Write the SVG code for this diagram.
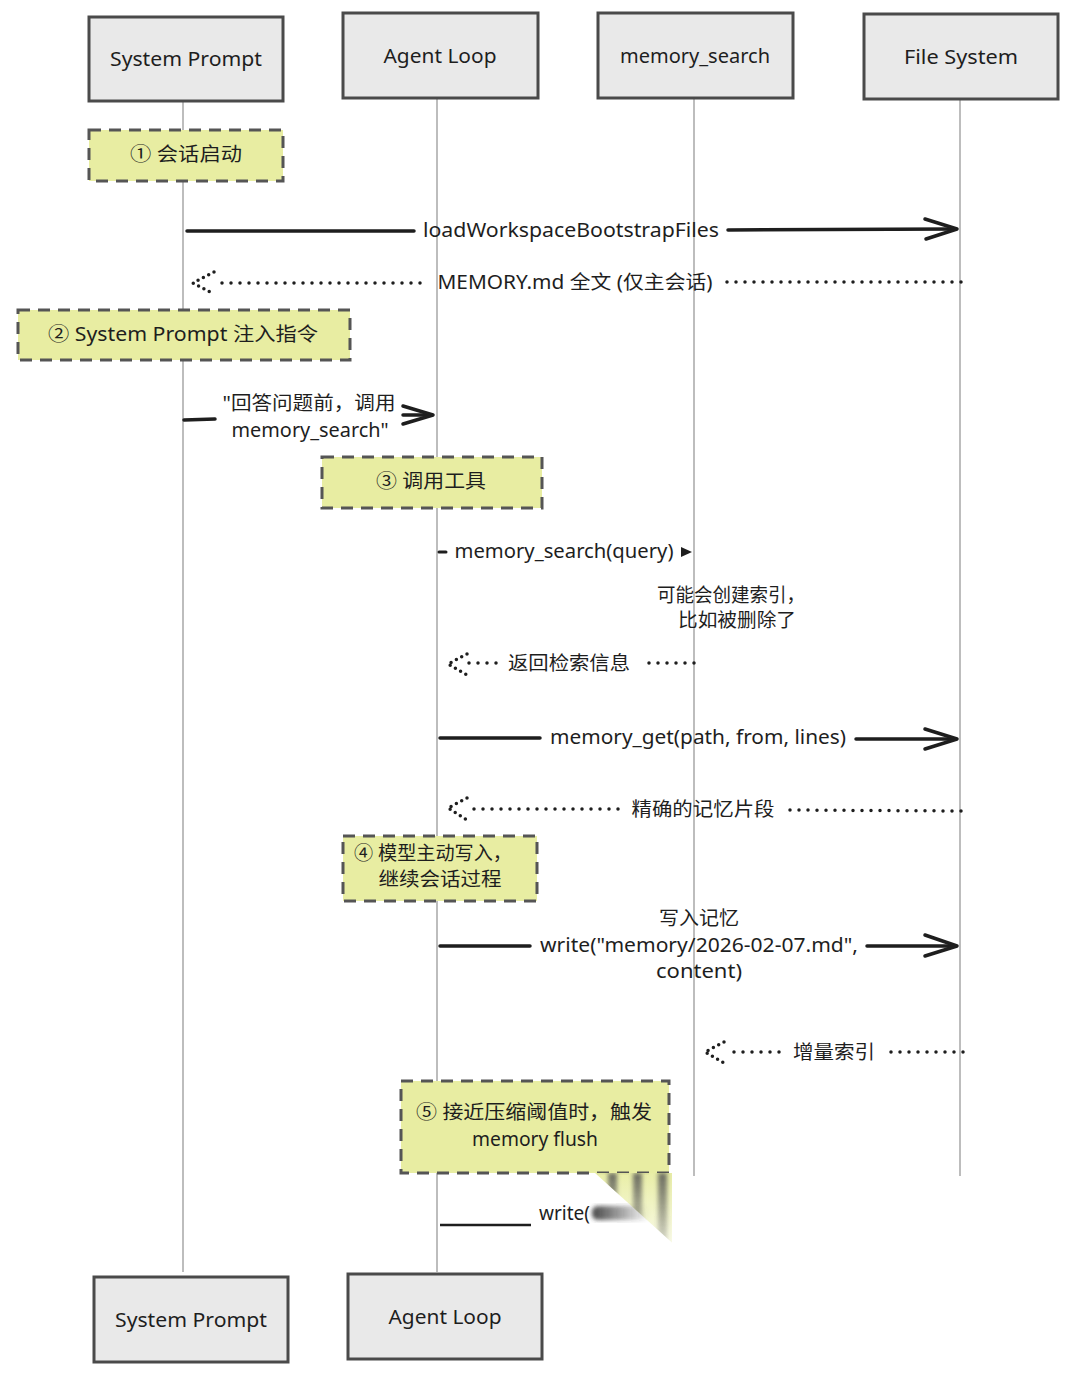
<svg xmlns="http://www.w3.org/2000/svg" width="1080" height="1380" viewBox="0 0 1080 1380">
<style>
.box{fill:#e9e9e9;stroke:#4a4a4a;stroke-width:3}
.note{fill:#e8eda2;stroke:#555;stroke-width:3;stroke-dasharray:12 8}
.life{stroke:#9a9a9a;stroke-width:1.3;fill:none}
.t{font-family:"Noto Sans","Noto Sans CJK SC",sans-serif;fill:#1e1e1e;dominant-baseline:central;text-anchor:middle}
.h{font-size:20px}
.l{font-size:19px}
.solid{stroke:#1e1e1e;stroke-width:3.5;fill:none;stroke-linecap:round;stroke-linejoin:round}
.dot{stroke:#1e1e1e;stroke-width:3.5;fill:none;stroke-linecap:round;stroke-dasharray:0 9}
.dothead{stroke:#1e1e1e;stroke-width:3.5;fill:none;stroke-linecap:round;stroke-dasharray:0 6}
</style>
<defs>
<linearGradient id="yfade" x1="0" y1="0" x2="0" y2="1">
<stop offset="0" stop-color="#e8eda2" stop-opacity="0.95"/>
<stop offset="1" stop-color="#e8eda2" stop-opacity="0"/>
</linearGradient>
<linearGradient id="gfade" x1="0" y1="0" x2="0" y2="1">
<stop offset="0" stop-color="#555" stop-opacity="0.85"/>
<stop offset="1" stop-color="#555" stop-opacity="0"/>
</linearGradient>
<linearGradient id="hfade" x1="0" y1="0" x2="1" y2="0">
<stop offset="0" stop-color="#333" stop-opacity="0.9"/>
<stop offset="1" stop-color="#333" stop-opacity="0"/>
</linearGradient>
<filter id="soft" x="-20%" y="-20%" width="140%" height="140%"><feGaussianBlur stdDeviation="2"/></filter>
<clipPath id="wedge"><polygon points="595,1173 700,1173 700,1268"/></clipPath>
</defs>
<rect width="1080" height="1380" fill="#ffffff"/>

<g id="lifelines">
<line class="life" x1="183" y1="101" x2="183" y2="1272"/>
<line class="life" x1="437" y1="98" x2="437" y2="1272"/>
<line class="life" x1="694" y1="98" x2="694" y2="1176"/>
<line class="life" x1="960" y1="100" x2="960" y2="1176"/>
</g>

<g id="head-system-prompt"><rect class="box" x="89" y="17" width="194" height="84"/><text class="t h" x="186" y="58" textLength="152" lengthAdjust="spacingAndGlyphs">System Prompt</text></g>
<g id="head-agent-loop"><rect class="box" x="343" y="13" width="195" height="85"/><text class="t h" x="440" y="55" textLength="113" lengthAdjust="spacingAndGlyphs">Agent Loop</text></g>
<g id="head-memory-search"><rect class="box" x="598" y="13" width="195" height="85"/><text class="t h" x="695" y="55" textLength="150" lengthAdjust="spacingAndGlyphs">memory_search</text></g>
<g id="head-file-system"><rect class="box" x="864" y="14" width="194" height="85"/><text class="t h" x="961" y="56" textLength="114" lengthAdjust="spacingAndGlyphs">File System</text></g>

<g id="foot-system-prompt"><rect class="box" x="94" y="1277" width="194" height="85"/><text class="t h" x="191" y="1319" textLength="152" lengthAdjust="spacingAndGlyphs">System Prompt</text></g>
<g id="foot-agent-loop"><rect class="box" x="348" y="1274" width="194" height="85"/><text class="t h" x="445" y="1316" textLength="113" lengthAdjust="spacingAndGlyphs">Agent Loop</text></g>

<g id="note1"><rect class="note" x="89" y="130" width="194" height="51"/><text class="t l" x="186" y="154" textLength="112" lengthAdjust="spacingAndGlyphs">① 会话启动</text></g>
<g id="note2"><rect class="note" x="18" y="310" width="332" height="50"/><text class="t l" x="183" y="334" textLength="270" lengthAdjust="spacingAndGlyphs">② System Prompt 注入指令</text></g>
<g id="note3"><rect class="note" x="322" y="457" width="220" height="51"/><text class="t l" x="431" y="481" textLength="110" lengthAdjust="spacingAndGlyphs">③ 调用工具</text></g>
<g id="note4"><rect class="note" x="343" y="836" width="194" height="65"/><text class="t l" x="433" y="853" textLength="158" lengthAdjust="spacingAndGlyphs">④ 模型主动写入，</text><text class="t l" x="440" y="879" textLength="123" lengthAdjust="spacingAndGlyphs">继续会话过程</text></g>
<g id="note5"><rect class="note" x="401" y="1081" width="268" height="92"/><text class="t l" x="534" y="1112" textLength="236" lengthAdjust="spacingAndGlyphs">⑤ 接近压缩阈值时，触发</text><text class="t l" x="535" y="1139" textLength="126" lengthAdjust="spacingAndGlyphs">memory flush</text></g>

<g id="connectors">
<line class="solid" x1="187" y1="231" x2="414" y2="231"/>
<text class="t l" x="571" y="230" textLength="296" lengthAdjust="spacingAndGlyphs">loadWorkspaceBootstrapFiles</text>
<line class="solid" x1="728" y1="230" x2="955" y2="229"/>
<path class="solid" d="M925 219 L957 229 L926 239"/>

<line class="dot" x1="961" y1="282" x2="724" y2="282"/>
<text class="t l" x="575" y="282" textLength="275" lengthAdjust="spacingAndGlyphs">MEMORY.md 全文 (仅主会话)</text>
<line class="dot" x1="420" y1="283" x2="215" y2="283"/>
<path class="dothead" d="M214 272 L193 283 L214 294"/>

<line class="solid" x1="184" y1="420" x2="215" y2="419"/>
<text class="t l" x="309" y="403" textLength="173" lengthAdjust="spacingAndGlyphs">"回答问题前，调用</text>
<text class="t l" x="310" y="430" textLength="157" lengthAdjust="spacingAndGlyphs">memory_search"</text>
<line class="solid" x1="403" y1="415" x2="430" y2="415"/>
<path class="solid" d="M403 406 L433 415 L403 424"/>

<line class="solid" x1="439" y1="552" x2="446" y2="552" style="stroke-width:3"/>
<text class="t l" x="564" y="551" textLength="219" lengthAdjust="spacingAndGlyphs">memory_search(query)</text>
<path d="M681 547 L692 552 L681 557 Z" fill="#1e1e1e"/>

<text class="t l" x="731" y="595" textLength="148" lengthAdjust="spacingAndGlyphs">可能会创建索引，</text>
<text class="t l" x="737" y="620" textLength="118" lengthAdjust="spacingAndGlyphs">比如被删除了</text>

<line class="dot" x1="694" y1="663" x2="640" y2="663"/>
<text class="t l" x="569" y="663" textLength="122" lengthAdjust="spacingAndGlyphs">返回检索信息</text>
<line class="dot" x1="496" y1="663" x2="468" y2="663"/>
<path class="dothead" d="M467 654 L448 664 L467 675"/>

<line class="solid" x1="440" y1="738" x2="540" y2="738"/>
<text class="t l" x="698" y="737" textLength="296" lengthAdjust="spacingAndGlyphs">memory_get(path, from, lines)</text>
<line class="solid" x1="856" y1="739" x2="955" y2="739"/>
<path class="solid" d="M925 729 L957 739 L925 749"/>

<line class="dot" x1="961" y1="811" x2="787" y2="810"/>
<text class="t l" x="703" y="809" textLength="143" lengthAdjust="spacingAndGlyphs">精确的记忆片段</text>
<line class="dot" x1="618" y1="809" x2="468" y2="809"/>
<path class="dothead" d="M467 798 L448 808 L467 820"/>

<line class="solid" x1="440" y1="946" x2="530" y2="946"/>
<text class="t l" x="699" y="918" textLength="80" lengthAdjust="spacingAndGlyphs">写入记忆</text>
<text class="t l" x="699" y="945" textLength="318" lengthAdjust="spacingAndGlyphs">write("memory/2026-02-07.md",</text>
<text class="t l" x="699" y="971" textLength="86" lengthAdjust="spacingAndGlyphs">content)</text>
<line class="solid" x1="867" y1="946" x2="955" y2="946"/>
<path class="solid" d="M925 935 L957 946 L925 956"/>

<line class="dot" x1="963" y1="1052" x2="885" y2="1052"/>
<text class="t l" x="834" y="1052" textLength="82" lengthAdjust="spacingAndGlyphs">增量索引</text>
<line class="dot" x1="779" y1="1052" x2="726" y2="1052"/>
<path class="dothead" d="M724 1042 L705 1052 L724 1063"/>

<line x1="440" y1="1225" x2="531" y2="1225" stroke="#1e1e1e" stroke-width="2.5"/>
<text class="t l" x="539" y="1213" style="text-anchor:start" textLength="51" lengthAdjust="spacingAndGlyphs">write(</text>
</g>

<g id="page-curl">
<rect x="592" y="1206" width="58" height="14" rx="6" fill="url(#hfade)" filter="url(#soft)"/>
<g clip-path="url(#wedge)">
<rect x="595" y="1173" width="77" height="95" fill="url(#yfade)"/>
<g filter="url(#soft)">
<rect x="608" y="1173" width="9" height="70" fill="url(#gfade)"/>
<rect x="633" y="1173" width="9" height="80" fill="url(#gfade)"/>
<rect x="658" y="1173" width="9" height="90" fill="url(#gfade)"/>
</g>
</g>
</g>
</svg>
